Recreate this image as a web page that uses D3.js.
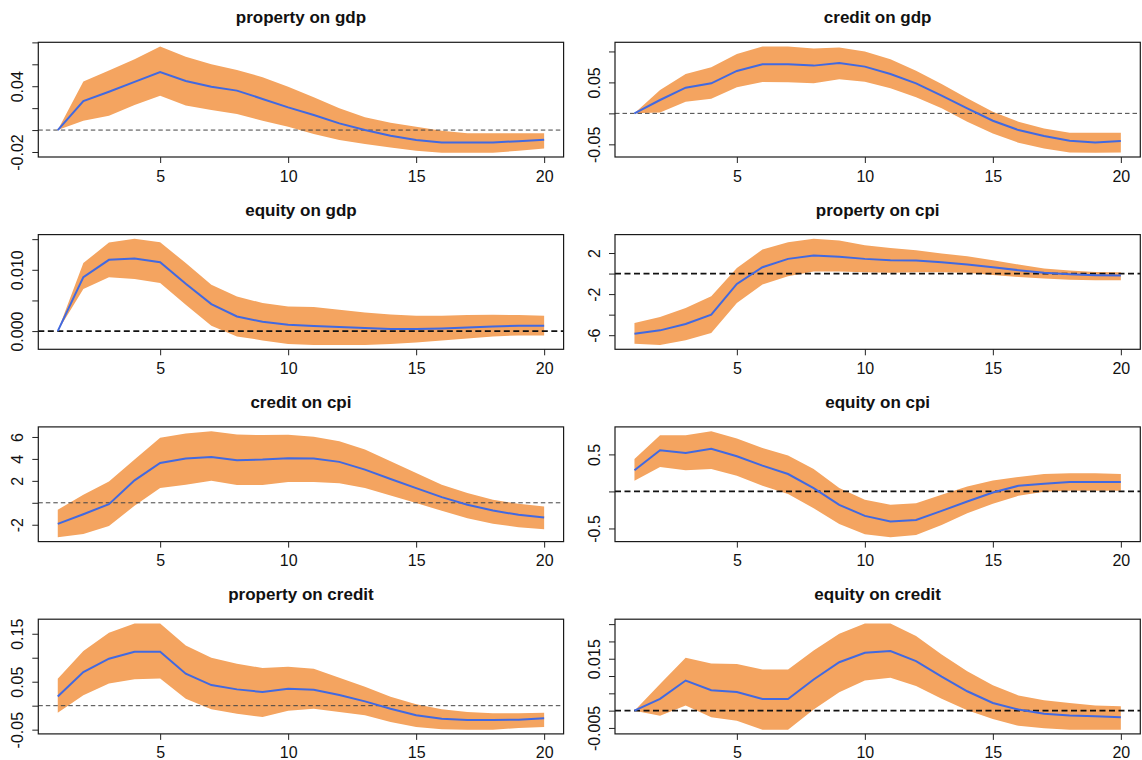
<!DOCTYPE html>
<html><head><meta charset="utf-8">
<script src="https://cdn.jsdelivr.net/npm/d3@7"></script>
<style>body{margin:0;background:#fff} svg{display:block;font-family:"Liberation Sans",Arial,Helvetica,sans-serif}</style>
</head><body><svg id="chart" width="1142" height="760"></svg>
<script>
// ---------- data ----------
const periods = [1,2,3,4,5,6,7,8,9,10,11,12,13,14,15,16,17,18,19,20];
const xTicks = [5,10,15,20];

const titles = ["property on gdp","credit on gdp","equity on gdp","property on cpi",
                "credit on cpi","equity on cpi","property on credit","equity on credit"];

// property on gdp
const propGdpMean = [0,0.0265,0.035,0.044,0.053,0.0448,0.0396,0.036,0.0284,0.0207,0.0137,0.0061,0.0,-0.0052,-0.0091,-0.0113,-0.0113,-0.0113,-0.0101,-0.0088];
const propGdpHi   = [0,0.0442,0.0543,0.0646,0.0762,0.067,0.060,0.0549,0.0482,0.0396,0.030,0.0198,0.0116,0.0067,0.003,-0.0006,-0.003,-0.003,-0.003,-0.003];
const propGdpLo   = [0,0.0085,0.0131,0.0229,0.0314,0.0223,0.0183,0.0146,0.0085,0.003,-0.0037,-0.0091,-0.0128,-0.0159,-0.0189,-0.0207,-0.0207,-0.0207,-0.0189,-0.0168];
const propGdpTicks = [-0.02,0,0.02,0.04,0.06,0.08];
const propGdpLabels = ["-0.02","","","0.04","",""];

// credit on gdp
const credGdpMean = [0,0.0216,0.0415,0.0485,0.0685,0.0793,0.0793,0.0771,0.0814,0.0755,0.0636,0.0485,0.0286,0.0081,-0.0119,-0.027,-0.0367,-0.0442,-0.0469,-0.0448];
const credGdpHi   = [0,0.0378,0.0636,0.0744,0.096,0.1079,0.1079,0.1046,0.1063,0.0998,0.0874,0.069,0.0475,0.0243,0.0027,-0.0135,-0.0243,-0.0313,-0.0313,-0.0313];
const credGdpLo   = [0,0.0016,0.0189,0.0237,0.0421,0.0507,0.0502,0.0485,0.055,0.0512,0.0405,0.0259,0.0081,-0.0135,-0.0324,-0.0475,-0.0566,-0.0631,-0.0636,-0.0631];
const credGdpTicks = [-0.05,0,0.05,0.10];
const credGdpLabels = ["-0.05","","0.05",""];

// equity on gdp
const eqGdpMean = [0,0.0088,0.01163,0.01185,0.01125,0.00772,0.0044,0.00239,0.00152,0.00103,0.00082,0.00065,0.00049,0.00033,0.00033,0.00043,0.0006,0.00076,0.00087,0.00087];
const eqGdpHi   = [0,0.01109,0.01446,0.01505,0.01451,0.01109,0.00755,0.00565,0.00457,0.00402,0.00391,0.00348,0.00304,0.00272,0.0025,0.0025,0.00261,0.00266,0.00261,0.0025];
const eqGdpLo   = [0,0.00685,0.0088,0.00848,0.00783,0.00429,0.00087,-0.00087,-0.00152,-0.00212,-0.00228,-0.00228,-0.00228,-0.00212,-0.00185,-0.00152,-0.0012,-0.00087,-0.00071,-0.00071];
const eqGdpTicks = [0,0.005,0.010,0.015];
const eqGdpLabels = ["0.000","","0.010",""];

// property on cpi
const propCpiMean = [-5.85,-5.53,-4.91,-4.0,-1.01,0.62,1.43,1.76,1.63,1.43,1.30,1.27,1.11,0.88,0.62,0.33,0.07,-0.07,-0.16,-0.2];
const propCpiHi   = [-4.81,-4.23,-3.35,-2.21,0.55,2.34,3.06,3.38,3.22,2.76,2.5,2.28,1.95,1.69,1.3,0.88,0.49,0.29,0.16,0.13];
const propCpiLo   = [-6.83,-6.96,-6.5,-5.79,-2.86,-1.07,-0.26,0.2,0.2,0.13,0.07,0.13,0.13,0.07,-0.13,-0.33,-0.49,-0.59,-0.65,-0.65];
const propCpiTicks = [-6,-4,-2,0,2];
const propCpiLabels = ["-6","","-2","","2"];

// credit on cpi
const credCpiMean = [-1.92,-1.04,-0.12,2.05,3.63,4.03,4.18,3.88,3.94,4.06,4.03,3.73,3.02,2.17,1.34,0.52,-0.18,-0.70,-1.10,-1.34];
const credCpiHi   = [-0.64,0.73,1.95,3.94,5.92,6.32,6.53,6.23,6.17,6.2,6.02,5.62,4.85,3.79,2.72,1.65,0.89,0.27,-0.09,-0.34];
const credCpiLo   = [-3.15,-2.84,-2.11,-0.27,1.34,1.65,2.02,1.62,1.62,1.89,1.89,1.77,1.34,0.67,-0.03,-0.73,-1.40,-1.92,-2.23,-2.41];
const credCpiTicks = [-2,0,2,4,6];
const credCpiLabels = ["-2","","2","4","6"];

// equity on cpi
const eqCpiMean = [0.285,0.557,0.52,0.575,0.475,0.348,0.235,0.045,-0.181,-0.33,-0.407,-0.385,-0.262,-0.136,-0.014,0.077,0.104,0.127,0.127,0.127];
const eqCpiHi   = [0.439,0.76,0.76,0.814,0.715,0.588,0.484,0.303,0.045,-0.113,-0.181,-0.158,-0.045,0.068,0.149,0.195,0.235,0.244,0.244,0.235];
const eqCpiLo   = [0.145,0.33,0.285,0.303,0.213,0.077,-0.036,-0.226,-0.439,-0.579,-0.62,-0.588,-0.452,-0.294,-0.167,-0.059,-0.005,0.009,0.009,0.009];
const eqCpiTicks = [-0.5,0,0.5];
const eqCpiLabels = ["-0.5","","0.5"];

// property on credit
const propCredMean = [0.019,0.070,0.098,0.1125,0.1125,0.0667,0.043,0.034,0.0285,0.0354,0.0333,0.0222,0.009,-0.0063,-0.0201,-0.0271,-0.0299,-0.0299,-0.0292,-0.0264];
const propCredHi   = [0.0563,0.1139,0.152,0.1715,0.1715,0.1257,0.10,0.0875,0.0785,0.0813,0.0771,0.0583,0.0396,0.0188,0.0028,-0.0076,-0.0132,-0.016,-0.016,-0.0146];
const propCredLo   = [-0.0146,0.0215,0.0465,0.0549,0.0569,0.0146,-0.0076,-0.0167,-0.0236,-0.0104,-0.0063,-0.0132,-0.0201,-0.034,-0.0444,-0.0493,-0.05,-0.05,-0.0465,-0.0444];
const propCredTicks = [-0.05,0,0.05,0.10,0.15];
const propCredLabels = ["-0.05","","0.05","","0.15"];

// equity on credit
const eqCredMean = [0,0.00338,0.0087,0.0059,0.0054,0.00338,0.00338,0.009,0.014,0.0167,0.0172,0.0143,0.0098,0.0056,0.0022,0.0003,-0.0009,-0.0014,-0.0016,-0.0019];
const eqCredHi   = [0,0.0077,0.0153,0.0136,0.0135,0.0119,0.0119,0.0174,0.0222,0.0252,0.0252,0.0216,0.0162,0.0114,0.0073,0.0044,0.003,0.0022,0.0015,0.0013];
const eqCredLo   = [0,-0.0015,0.0015,-0.0019,-0.0029,-0.0055,-0.0055,0.0003,0.0053,0.0087,0.0095,0.0071,0.0034,0.0001,-0.0024,-0.0044,-0.0051,-0.0055,-0.0055,-0.0055];
const eqCredTicks = [-0.005,0,0.005,0.010,0.015,0.020,0.025];
const eqCredLabels = ["-0.005","","","","0.015","",""];

// ---------- panels ----------
const panels = [
  {title:titles[0], mean:propGdpMean, hi:propGdpHi, lo:propGdpLo, ticks:propGdpTicks, labels:propGdpLabels, bold:false},
  {title:titles[1], mean:credGdpMean, hi:credGdpHi, lo:credGdpLo, ticks:credGdpTicks, labels:credGdpLabels, bold:false},
  {title:titles[2], mean:eqGdpMean, hi:eqGdpHi, lo:eqGdpLo, ticks:eqGdpTicks, labels:eqGdpLabels, bold:true},
  {title:titles[3], mean:propCpiMean, hi:propCpiHi, lo:propCpiLo, ticks:propCpiTicks, labels:propCpiLabels, bold:true},
  {title:titles[4], mean:credCpiMean, hi:credCpiHi, lo:credCpiLo, ticks:credCpiTicks, labels:credCpiLabels, bold:false},
  {title:titles[5], mean:eqCpiMean, hi:eqCpiHi, lo:eqCpiLo, ticks:eqCpiTicks, labels:eqCpiLabels, bold:true},
  {title:titles[6], mean:propCredMean, hi:propCredHi, lo:propCredLo, ticks:propCredTicks, labels:propCredLabels, bold:false},
  {title:titles[7], mean:eqCredMean, hi:eqCredHi, lo:eqCredLo, ticks:eqCredTicks, labels:eqCredLabels, bold:true}
];

// ---------- layout ----------
const colLeft = [38.3, 615], plotW = 525.3;
const rowTop0 = 42.3, rowStep = 192.3, plotH = 114.7;
const svg = d3.select("#chart");

panels.forEach((p, i) => {
  const col = i % 2, row = Math.floor(i / 2);
  const x0 = colLeft[col], y0 = rowTop0 + row * rowStep;
  const xr = [periods[0], periods[periods.length - 1]];
  const xpad = (xr[1] - xr[0]) * 0.04;
  const x = d3.scaleLinear().domain([xr[0] - xpad, xr[1] + xpad]).range([x0, x0 + plotW]);
  const lo = d3.min(p.lo.concat(p.mean)), hi = d3.max(p.hi.concat(p.mean));
  const ypad = (hi - lo) * 0.04;
  const y = d3.scaleLinear().domain([lo - ypad, hi + ypad]).range([y0 + plotH, y0]);

  const g = svg.append("g");

  g.append("path")
    .datum(periods)
    .attr("d", d3.area().x(d => x(d)).y0((d, k) => y(p.lo[k])).y1((d, k) => y(p.hi[k])))
    .attr("fill", "#F4A460");

  g.append("line")
    .attr("x1", x0).attr("x2", x0 + plotW)
    .attr("y1", y(0)).attr("y2", y(0))
    .attr("stroke", p.bold ? "#111" : "#444")
    .attr("stroke-width", p.bold ? 1.8 : 1)
    .attr("stroke-dasharray", p.bold ? "6,3.5" : "4.5,3");

  g.append("path")
    .datum(periods)
    .attr("d", d3.line().x(d => x(d)).y((d, k) => y(p.mean[k])))
    .attr("fill", "none")
    .attr("stroke", "#4169E1")
    .attr("stroke-width", 2);

  g.append("rect")
    .attr("x", x0).attr("y", y0).attr("width", plotW).attr("height", plotH)
    .attr("fill", "none").attr("stroke", "#1a1a1a").attr("stroke-width", 1.2);

  // left axis
  const ya = g.append("g").attr("transform", `translate(${x0},0)`)
    .call(d3.axisLeft(y).tickValues(p.ticks).tickFormat((d, k) => p.labels[k]).tickSize(6));
  ya.select(".domain").remove();
  ya.selectAll(".tick line").attr("stroke", "#222");
  ya.selectAll(".tick text")
    .attr("x", 0).attr("dy", 0)
    .attr("transform", "translate(-15,0) rotate(-90)")
    .attr("text-anchor", "middle")
    .attr("fill", "#111")
    .style("font-size", "16px")
    .style("font-family", "'Liberation Sans', Arial, sans-serif");

  // bottom axis
  const xa = g.append("g").attr("transform", `translate(0,${y0 + plotH})`)
    .call(d3.axisBottom(x).tickValues(xTicks).tickSize(6));
  xa.select(".domain").remove();
  xa.selectAll(".tick line").attr("stroke", "#222");
  xa.selectAll(".tick text")
    .attr("y", 24.5).attr("dy", 0)
    .attr("fill", "#111")
    .style("font-size", "16px")
    .style("font-family", "'Liberation Sans', Arial, sans-serif");

  g.append("text")
    .attr("x", x0 + plotW / 2).attr("y", y0 - 19)
    .attr("text-anchor", "middle")
    .style("font-size", "17px").style("font-weight", "bold")
    .attr("fill", "#111")
    .text(p.title);
});
</script>
</body></html>
